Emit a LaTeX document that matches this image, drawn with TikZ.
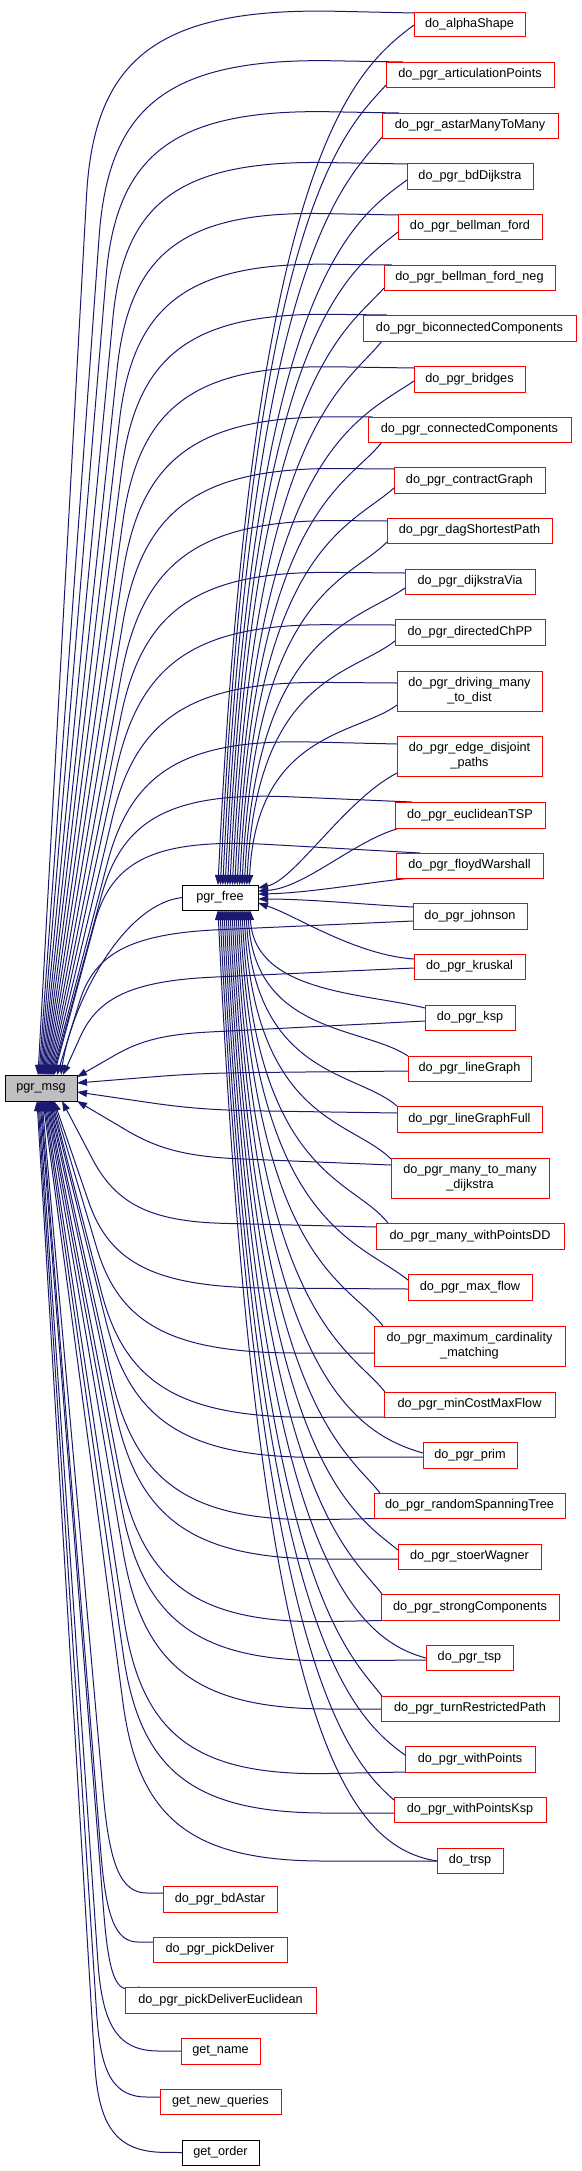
\documentclass[tikz,border=0pt]{standalone}
\usepackage{fontspec}
\setmainfont{Liberation Sans}
\usetikzlibrary{calc,arrows.meta}
\definecolor{edgeblue}{HTML}{191970}
\definecolor{nodegray}{HTML}{BFBFBF}
\pgfdeclarelayer{bg}
\pgfsetlayers{bg,main}
% corner-shaped connector: start, corner point (x,y), radius along first leg, radius along second leg, end
\newcommand\cedge[5]{%
  \pgfmathsetmacro\cra{0.28*#3}\pgfmathsetmacro\crb{0.25*#4}%
  \draw[conn] #1 -- ($(#2)!#3pt!#1$) .. controls ($(#2)!\cra pt!#1$) and ($(#2)!\crb pt!#5$) .. ($(#2)!#4pt!#5$) -- #5;}
% pgr_free -> caller above
\newcommand\fup[4]{%
  \draw[conn] let \p1=([xshift=#1pt]free.north west), \p2=#2 in
  (\p1) .. controls ({\x1+0.04*abs((\y2)-(\y1))},{\y1+0.85*((\y2)-(\y1))}) and ({\x2-#3pt},{\y2-#4pt}) .. (\p2);}
% pgr_free -> caller below
\newcommand\fdown[4]{%
  \draw[conn] let \p1=([xshift=#1pt]free.south west), \p2=#2 in
  (\p1) .. controls ({\x1+0.04*abs((\y2)-(\y1))},{\y1+0.85*((\y2)-(\y1))}) and ({\x2-#3pt},{\y2+#4pt}) .. (\p2);}
\tikzset{
  box/.style={draw=red, line width=0.9pt, fill=white, inner sep=0pt, outer sep=0pt,
    anchor=north west, align=center, text=black, font=\fontsize{12.7}{14.7}\selectfont},
  bbox/.style={box, draw=black},
  conn/.style={draw=edgeblue, line width=1pt, {Triangle[length=10pt,width=7pt]}-},
}
\begin{document}
\begin{tikzpicture}[x=1pt,y=-1pt]
\useasboundingbox (0,0) rectangle (581,2171);
% right column
\node[box, minimum width=111pt, minimum height=24pt] (n1) at (414,12) {do\_alphaShape};
\node[box, minimum width=168pt, minimum height=25pt] (n2) at (386,62) {do\_pgr\_articulationPoints};
\node[box, minimum width=176pt, minimum height=25pt] (n3) at (382,113) {do\_pgr\_astarManyToMany};
\node[box, minimum width=126pt, minimum height=26pt] (n4) at (407,163) {do\_pgr\_bdDijkstra};
\node[box, minimum width=144pt, minimum height=25pt] (n5) at (398,214) {do\_pgr\_bellman\_ford};
\node[box, minimum width=171pt, minimum height=25pt] (n6) at (384,265) {do\_pgr\_bellman\_ford\_neg};
\node[box, minimum width=213pt, minimum height=26pt] (n7) at (363,315) {do\_pgr\_biconnectedComponents};
\node[box, minimum width=111pt, minimum height=26pt] (n8) at (414,366) {do\_pgr\_bridges};
\node[box, minimum width=203pt, minimum height=25pt] (n9) at (368,417) {do\_pgr\_connectedComponents};
\node[box, minimum width=151pt, minimum height=26pt] (n10) at (394,467) {do\_pgr\_contractGraph};
\node[box, minimum width=165pt, minimum height=25pt] (n11) at (387,518) {do\_pgr\_dagShortestPath};
\node[box, minimum width=130pt, minimum height=25pt] (n12) at (405,569) {do\_pgr\_dijkstraVia};
\node[box, minimum width=150pt, minimum height=26pt] (n13) at (395,619) {do\_pgr\_directedChPP};
\node[box, minimum width=145pt, minimum height=40pt] (n14) at (397,671) {do\_pgr\_driving\_many\\\_to\_dist};
\node[box, minimum width=145pt, minimum height=40pt] (n15) at (397,736) {do\_pgr\_edge\_disjoint\\\_paths};
\node[box, minimum width=150pt, minimum height=26pt] (n16) at (395,802) {do\_pgr\_euclideanTSP};
\node[box, minimum width=147pt, minimum height=25pt] (n17) at (396,853) {do\_pgr\_floydWarshall};
\node[box, minimum width=114pt, minimum height=26pt] (n18) at (413,903) {do\_pgr\_johnson};
\node[box, minimum width=111pt, minimum height=25pt] (n19) at (414,954) {do\_pgr\_kruskal};
\node[box, minimum width=90pt, minimum height=25pt] (n20) at (425,1005) {do\_pgr\_ksp};
\node[box, minimum width=123pt, minimum height=25pt] (n21) at (408,1056) {do\_pgr\_lineGraph};
\node[box, minimum width=145pt, minimum height=26pt] (n22) at (397,1106) {do\_pgr\_lineGraphFull};
\node[box, minimum width=158pt, minimum height=40pt] (n23) at (391,1158) {do\_pgr\_many\_to\_many\\\_dijkstra};
\node[box, minimum width=188pt, minimum height=26pt] (n24) at (376,1223) {do\_pgr\_many\_withPointsDD};
\node[box, minimum width=124pt, minimum height=26pt] (n25) at (408,1274) {do\_pgr\_max\_flow};
\node[box, minimum width=191pt, minimum height=40pt] (n26) at (374,1326) {do\_pgr\_maximum\_cardinality\\\_matching};
\node[box, minimum width=171pt, minimum height=25pt] (n27) at (384,1392) {do\_pgr\_minCostMaxFlow};
\node[box, minimum width=94pt, minimum height=26pt] (n28) at (423,1442) {do\_pgr\_prim};
\node[box, minimum width=191pt, minimum height=25pt] (n29) at (374,1493) {do\_pgr\_randomSpanningTree};
\node[box, minimum width=143pt, minimum height=25pt] (n30) at (398,1544) {do\_pgr\_stoerWagner};
\node[box, minimum width=178pt, minimum height=26pt] (n31) at (381,1594) {do\_pgr\_strongComponents};
\node[box, minimum width=87pt, minimum height=25pt] (n32) at (426,1645) {do\_pgr\_tsp};
\node[box, minimum width=178pt, minimum height=25pt] (n33) at (381,1696) {do\_pgr\_turnRestrictedPath};
\node[box, minimum width=130pt, minimum height=26pt] (n34) at (405,1746) {do\_pgr\_withPoints};
\node[box, minimum width=152pt, minimum height=25pt] (n35) at (394,1797) {do\_pgr\_withPointsKsp};
\node[box, minimum width=66pt, minimum height=25pt] (n36) at (437,1848) {do\_trsp};
% middle column, lower part
\node[box, minimum width=114pt, minimum height=26pt] (L1) at (163,1886) {do\_pgr\_bdAstar};
\node[box, minimum width=134pt, minimum height=25pt] (L2) at (153,1937) {do\_pgr\_pickDeliver};
\node[box, minimum width=191pt, minimum height=26pt] (L3) at (125,1987) {do\_pgr\_pickDeliverEuclidean};
\node[box, minimum width=79pt, minimum height=26pt] (L4) at (181,2038) {get\_name};
\node[box, minimum width=121pt, minimum height=25pt] (L5) at (160,2089) {get\_new\_queries};
\node[bbox, minimum width=77pt, minimum height=25pt] (L6) at (182,2140) {get\_order};
% pgr_free and pgr_msg
\node[bbox, minimum width=76pt, minimum height=25pt] (free) at (182,885) {pgr\_free};
\node[bbox, fill=nodegray, minimum width=72pt, minimum height=26pt] (msg) at (5,1075) {pgr\_msg};

\begin{pgfonlayer}{bg}
% ---- pgr_msg <- callers above
\cedge{([xshift=33pt]msg.north west)}{97,6}{190}{240}{([yshift=-1pt]n1.north west)}
\cedge{([xshift=34pt]msg.north west)}{112,57}{180}{220}{([xshift=17pt]n2.north west)}
\cedge{([xshift=35pt]msg.north west)}{120,108}{170}{210}{([xshift=17pt]n3.north west)}
\cedge{([xshift=36pt]msg.north west)}{128,159}{160}{200}{([yshift=-1pt]n4.north west)}
\cedge{([xshift=37pt]msg.north west)}{134,210}{160}{190}{([yshift=-1pt]n5.north west)}
\cedge{([xshift=38pt]msg.north west)}{138,262}{160}{190}{([xshift=8pt]n6.north west)}
\cedge{([xshift=39pt]msg.north west)}{142,312}{160}{190}{([xshift=24pt]n7.north west)}
\cedge{([xshift=40pt]msg.north west)}{145,364}{160}{190}{([yshift=-2pt]n8.north west)}
\cedge{([xshift=41pt]msg.north west)}{147,416}{160}{190}{([xshift=5pt]n9.north west)}
\cedge{([xshift=42pt]msg.north west)}{149,467}{160}{190}{([yshift=-2pt]n10.north west)}
\cedge{([xshift=43pt]msg.north west)}{150,519}{160}{190}{([yshift=-3pt]n11.north west)}
\cedge{([xshift=44pt]msg.north west)}{150,571}{150}{180}{([yshift=-4pt]n12.north west)}
\cedge{([xshift=45pt]msg.north west)}{148,624}{150}{180}{([yshift=-6pt]n13.north west)}
\cedge{([xshift=46pt]msg.north west)}{145,681}{140}{180}{([yshift=-12pt]n14.north west)}
\cedge{([xshift=47pt]msg.north west)}{140,738}{130}{170}{([yshift=-8pt]n15.north west)}
\cedge{([xshift=48pt]msg.north west)}{130,790}{110}{160}{([xshift=17pt]n16.north west)}
\cedge{([xshift=49pt]msg.north west)}{118,836}{90}{150}{([xshift=24pt]n17.north west)}
\cedge{([xshift=52pt]msg.north west)}{100,935}{70}{120}{([yshift=-18pt]n18.north west)}
\cedge{([xshift=58pt]msg.north west)}{105,982}{60}{110}{([yshift=-14pt]n19.north west)}
\cedge{([yshift=-2pt]msg.north east)}{150,1035}{40}{60}{([yshift=-16pt]n20.north west)}
\cedge{([yshift=-8pt]msg.north east)}{200,1073}{50}{60}{([yshift=-15pt]n21.north west)}
\cedge{([yshift=-17pt]msg.north east)}{200,1110}{50}{60}{([yshift=-7pt]n22.north west)}
\cedge{(msg.south east)}{170,1156}{50}{70}{([yshift=-7pt]n23.north west)}
\cedge{([xshift=57pt]msg.south west)}{125,1221}{70}{100}{([yshift=-4pt]n24.north west)}
% ---- pgr_msg <- callers below
\cedge{([xshift=49pt]msg.south west)}{118,1287}{90}{150}{([yshift=-15pt]n25.north west)}
\cedge{([xshift=48pt]msg.south west)}{128,1353}{110}{170}{([yshift=-27pt]n26.north west)}
\cedge{([xshift=47pt]msg.south west)}{134,1418}{130}{180}{([yshift=-25pt]n27.north west)}
\cedge{([xshift=46pt]msg.south west)}{140,1458}{140}{180}{([yshift=-15pt]n28.north west)}
\cedge{([xshift=45pt]msg.south west)}{144,1523}{150}{180}{([xshift=29pt]n29.south west)}
\cedge{([xshift=44pt]msg.south west)}{147,1559}{150}{180}{([yshift=-15pt]n30.north west)}
\cedge{([xshift=43pt]msg.south west)}{149,1625}{160}{180}{([xshift=26pt]n31.south west)}
\cedge{([xshift=42pt]msg.south west)}{150,1662}{160}{180}{([yshift=-15pt]n32.north west)}
\cedge{([xshift=41pt]msg.south west)}{150,1709}{160}{180}{([yshift=-13pt]n33.north west)}
\cedge{([xshift=40pt]msg.south west)}{148,1777}{160}{180}{(n34.south west)}
\cedge{([xshift=39pt]msg.south west)}{146,1813}{160}{180}{([yshift=-16pt]n35.north west)}
\cedge{([xshift=38pt]msg.south west)}{144,1861}{160}{180}{([yshift=-13pt]n36.north west)}
\cedge{([xshift=37pt]msg.south west)}{112,1893}{100}{35}{([yshift=-7pt]L1.north west)}
\cedge{([xshift=36pt]msg.south west)}{108,1942}{90}{30}{([yshift=-5pt]L2.north west)}
\cedge{([xshift=35pt]msg.south west)}{110,1992}{80}{20}{([xshift=15pt]L3.north west)}
\cedge{([xshift=34pt]msg.south west)}{104,2051}{90}{55}{(L4.west)}
\cedge{([xshift=33pt]msg.south west)}{102,2097}{85}{45}{([yshift=-8pt]L5.north west)}
\cedge{([xshift=32pt]msg.south west)}{100,2152}{90}{65}{(L6.west)}
% ---- pgr_msg <- pgr_free
\draw[conn] ([xshift=56pt]msg.north west) .. controls (70,1010) and (120,905) .. (free.west);
% ---- pgr_free <- callers above
\fup{36}{([yshift=-13pt]n1.north west)}{60}{45}
\fup{38.4}{([yshift=-23pt]n2.north west)}{40}{45}
\fup{40.8}{([yshift=-24pt]n3.north west)}{35}{45}
\fup{43.2}{([yshift=-17pt]n4.north west)}{55}{40}
\fup{45.6}{([yshift=-18pt]n5.north west)}{50}{40}
\fup{48}{([yshift=-23pt]n6.north west)}{40}{45}
\fup{50.4}{([xshift=19pt]n7.south west)}{35}{45}
\fup{52.8}{([yshift=-15pt]n8.north west)}{60}{40}
\fup{55.2}{([xshift=14pt]n9.south west)}{35}{45}
\fup{57.6}{([yshift=-21pt]n10.north west)}{45}{40}
\fup{60}{([yshift=-24pt]n11.north west)}{40}{40}
\fup{62.4}{([yshift=-19pt]n12.north west)}{50}{35}
\fup{64.8}{([yshift=-22pt]n13.north west)}{45}{35}
\fup{67.2}{([yshift=-34pt]n14.north west)}{40}{30}
\draw[conn] ([yshift=-3pt]free.north east) .. controls (295,880) and (345,800) .. ([yshift=-37pt]n15.north west);
\draw[conn] ([yshift=-6pt]free.north east) .. controls (305,888) and (355,840) .. ([xshift=5pt]n16.south west);
\draw[conn] ([yshift=-9pt]free.north east) .. controls (310,893) and (370,882) .. ([xshift=16pt]n17.south west);
% ---- pgr_free <- callers below
\draw[conn] ([yshift=-14pt]free.north east) .. controls (310,899) and (370,905) .. ([yshift=-4pt]n18.north west);
\draw[conn] ([yshift=-18pt]free.north east) .. controls (295,915) and (355,955) .. ([yshift=-5pt]n19.north west);
\fdown{68}{([yshift=-3pt]n20.north west)}{60}{15}
\fdown{66}{(n21.north west)}{45}{30}
\fdown{64}{(n22.north west)}{40}{35}
\fdown{62}{([yshift=-1pt]n23.north west)}{40}{40}
\fdown{60}{([xshift=12pt]n24.north west)}{35}{45}
\fdown{58}{([yshift=-6pt]n25.north west)}{50}{40}
\fdown{56}{([xshift=9pt]n26.north west)}{35}{45}
\fdown{54}{([xshift=1pt]n27.north west)}{35}{45}
\fdown{52}{([yshift=-11pt]n28.north west)}{70}{20}
\fdown{50}{([xshift=6pt]n29.north west)}{35}{45}
\fdown{48}{([yshift=-6pt]n30.north west)}{50}{40}
\fdown{46}{([xshift=1pt]n31.north west)}{35}{45}
\fdown{44}{([yshift=-13pt]n32.north west)}{75}{20}
\fdown{42}{([xshift=1pt]n33.north west)}{35}{45}
\fdown{40}{([yshift=-9pt]n34.north west)}{55}{40}
\fdown{38}{([yshift=-3pt]n35.north west)}{45}{40}
\fdown{36}{([yshift=-13pt]n36.north west)}{95}{15}
\end{pgfonlayer}
\end{tikzpicture}
\end{document}
